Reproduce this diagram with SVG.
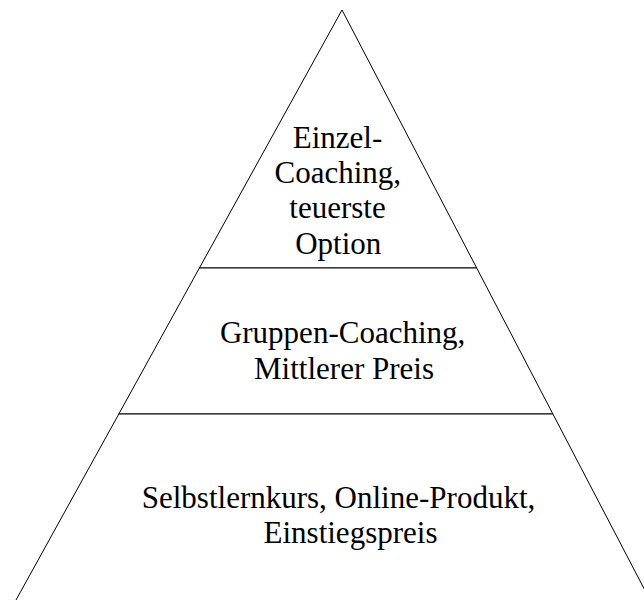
<svg xmlns="http://www.w3.org/2000/svg" width="644" height="600" viewBox="0 0 644 600">
<style>
.tier{fill:#ffffff;stroke:#000000;stroke-width:1;}
.lbl{font-family:"Liberation Serif","Times New Roman",serif;font-size:31px;fill:#000000;text-anchor:middle;}
</style>
<rect width="644" height="600" fill="#ffffff"/>
<g id="tier-top">
<polygon class="tier" points="342,10 476.7,268 199.4,268"/>
<text class="lbl" x="337.5" y="148.3">Einzel-</text>
<text class="lbl" x="337.8" y="183.3">Coaching,</text>
<text class="lbl" x="337.5" y="218.3">teuerste</text>
<text class="lbl" x="338.3" y="253.8">Option</text>
</g>
<g id="tier-middle">
<polygon class="tier" points="199.4,268 476.7,268 552.9,414 118.8,414"/>
<text class="lbl" x="342.6" y="343.3">Gruppen-Coaching,</text>
<text class="lbl" x="344" y="379.3">Mittlerer Preis</text>
</g>
<g id="tier-bottom">
<polygon class="tier" points="118.8,414 552.9,414 655.2,610 10.5,610"/>
<text class="lbl" x="338.5" y="508.3">Selbstlernkurs, Online-Produkt,</text>
<text class="lbl" x="350.5" y="543.3">Einstiegspreis</text>
</g>
</svg>
